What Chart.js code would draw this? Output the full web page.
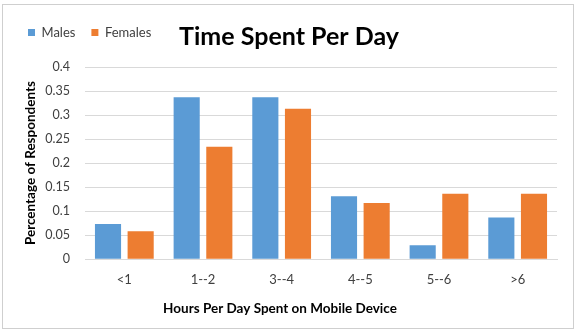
<!DOCTYPE html>
<html>
<head>
<meta charset="utf-8">
<script src="https://cdn.jsdelivr.net/npm/chart.js@4.4.1/dist/chart.umd.min.js"></script>
<style>
  html, body { margin: 0; padding: 0; background: #ffffff; }
  #wrap { position: relative; width: 578px; height: 333px; }
  #frame { position: absolute; left: 2px; top: 4px; width: 570px; height: 323px; border: 1px solid #cfcfcf; pointer-events: none; }
  canvas { display: block; }
</style>
</head>
<body>
<div id="wrap">
  <canvas id="c" width="578" height="333"></canvas>
  <div id="frame"></div>
</div>
<script>
const categories = ['<1', '1--2', '3--4', '4--5', '5--6', '>6'];
const males = [0.073, 0.337, 0.337, 0.131, 0.029, 0.087];
const females = [0.058, 0.234, 0.313, 0.117, 0.136, 0.136];
const seriesNames = ['Males', 'Females'];
const yTicks = [0, 0.05, 0.1, 0.15, 0.2, 0.25, 0.3, 0.35, 0.4];
const titleText = 'Time Spent Per Day';
const xTitle = 'Hours Per Day Spent on Mobile Device';
const yTitle = 'Percentage of Respondents';

const FONT = "'Lato', 'Open Sans', sans-serif";

new Chart(document.getElementById('c'), {
  type: 'bar',
  data: {
    labels: categories,
    datasets: [
      { label: seriesNames[0], data: males, backgroundColor: '#5B9BD5', borderWidth: 0, yAxisID: 'y' },
      { label: seriesNames[1], data: females, backgroundColor: '#ED7D31', borderWidth: 0, yAxisID: 'y' }
    ]
  },
  options: {
    responsive: false,
    animation: false,
    devicePixelRatio: 1,
    layout: { padding: { left: 12, right: 12, top: 10, bottom: 16 } },
    datasets: { bar: { categoryPercentage: 0.83, barPercentage: 0.8 } },
    plugins: {
      legend: {
        display: true,
        position: 'top',
        align: 'start',
        weight: 1000,
        labels: {
          boxWidth: 7,
          boxHeight: 7,
          color: '#404040',
          font: { family: FONT, size: 13 },
          padding: 16
        }
      },
      title: {
        display: true,
        text: titleText,
        weight: 500,
        color: '#000000',
        font: { family: FONT, size: 25, weight: 'bold' },
        padding: { top: -27, bottom: 15 }
      },
      tooltip: { enabled: false }
    },
    scales: {
      x: {
        grid: { display: false, drawTicks: false },
        border: { display: true, color: '#D9D9D9' },
        ticks: { color: '#404040', font: { family: FONT, size: 13 }, padding: 13 },
        title: {
          display: true,
          text: xTitle + '\u00A0'.repeat(25),
          color: '#000000',
          font: { family: FONT, size: 13.5, weight: 'bold' },
          padding: { top: 0, bottom: 0 }
        }
      },
      y: {
        min: 0,
        max: 0.4,
        grid: { color: '#D9D9D9', drawTicks: false },
        border: { display: false },
        afterBuildTicks: (axis) => { axis.ticks = yTicks.map(v => ({ value: v })); },
        afterFit: (axis) => { axis.width = 73; },
        ticks: {
          color: '#404040',
          font: { family: FONT, size: 12.5 },
          padding: 15,
          callback: (v) => String(+Number(v).toFixed(2))
        },
        title: {
          display: true,
          text: yTitle,
          color: '#000000',
          font: { family: FONT, size: 13.5, weight: 'bold' },
          padding: { top: 11, bottom: 9 }
        }
      },
      yRight: {
        type: 'linear',
        position: 'right',
        display: true,
        min: 0,
        max: 0.4,
        grid: { display: false, drawTicks: false },
        border: { display: false },
        ticks: { display: false },
        afterFit: (axis) => { axis.width = 9; }
      }
    }
  }
});
</script>
</body>
</html>
